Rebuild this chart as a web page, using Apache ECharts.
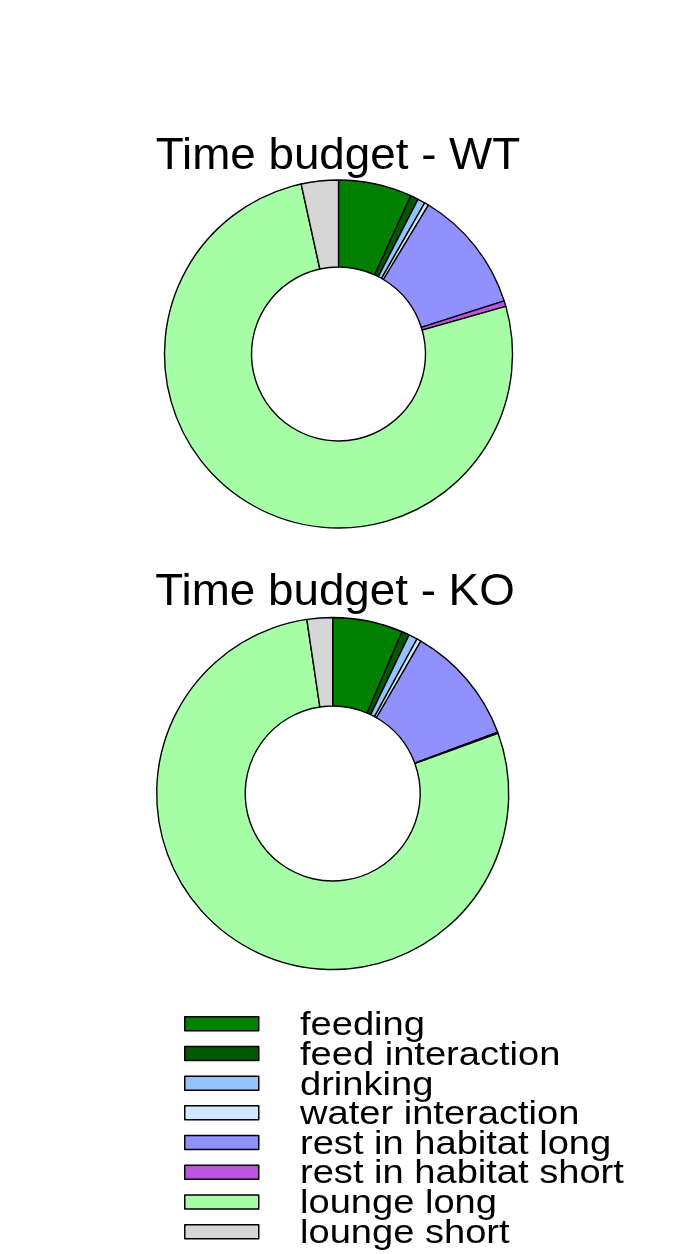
<!DOCTYPE html>
<html>
<head>
<meta charset="utf-8">
<script src="https://cdn.jsdelivr.net/npm/echarts@6/dist/echarts.min.js"></script>
<style>
  html, body { margin: 0; padding: 0; background: #ffffff; }
  #chart { width: 689px; height: 1254px; }
</style>
</head>
<body>
<div id="chart"></div>
<script>
// ---- data ----
const categories = [
  'feeding', 'feed interaction', 'drinking', 'water interaction',
  'rest in habitat long', 'rest in habitat short', 'lounge long', 'lounge short'
];
const wtValues = [6.82, 0.74, 0.69, 0.39, 11.42, 0.53, 75.97, 3.44];
const koValues = [6.45, 0.70, 0.80, 0.40, 11.00, 0.10, 78.25, 2.35];
const colors = ['#008000', '#005800', '#94c4ff', '#d2e8ff', '#9090ff', '#bb55dd', '#a6ffa6', '#d6d6d6'];
const titles = ['Time budget - WT', 'Time budget - KO'];

const FONT = '"Liberation Sans", Arial, Helvetica, sans-serif';

const chart = echarts.init(document.getElementById('chart'), null, { renderer: 'canvas' });

function pieSeries(name, values, center, radius) {
  return {
    type: 'pie',
    name: name,
    center: center,
    radius: radius,
    startAngle: 90,
    clockwise: true,
    avoidLabelOverlap: false,
    label: { show: false },
    labelLine: { show: false },
    emphasis: { disabled: true },
    itemStyle: { borderColor: '#000000', borderWidth: 1.4 },
    data: categories.map((c, i) => ({ name: c, value: values[i], itemStyle: { color: colors[i] } }))
  };
}

// graphic texts (titles + legend labels), horizontally widened like the reference font
const graphics = [];
graphics.push({
  type: 'text', x: 338, y: 156.5, scaleX: 1.04, silent: true,
  style: { text: titles[0], fontSize: 44, fontFamily: FONT, fill: '#000', align: 'center', verticalAlign: 'middle' }
});
graphics.push({
  type: 'text', x: 335, y: 592.5, scaleX: 1.04, silent: true,
  style: { text: titles[1], fontSize: 44, fontFamily: FONT, fill: '#000', align: 'center', verticalAlign: 'middle' }
});
const legendTop = 1016, legendStep = 29.6, boxH = 14;
categories.forEach((c, i) => {
  graphics.push({
    type: 'text', x: 300, y: legendTop + boxH / 2 + 3 + i * legendStep, scaleX: 1.12, silent: true,
    style: { text: c, fontSize: 34, fontFamily: FONT, fill: '#000', align: 'left', verticalAlign: 'middle' }
  });
});

const option = {
  backgroundColor: '#ffffff',
  animation: false,
  color: colors,
  legend: {
    orient: 'vertical',
    left: 184,
    top: legendTop,
    itemWidth: 74,
    itemHeight: boxH,
    itemGap: legendStep - boxH - 1.4,
    icon: 'rect',
    selectedMode: false,
    padding: 0,
    data: categories,
    formatter: function () { return ''; },
    itemStyle: { borderColor: '#000000', borderWidth: 1.5 },
    textStyle: { fontSize: 1 }
  },
  series: [
    pieSeries('WT', wtValues, [338.5, 354], [87, 174]),
    pieSeries('KO', koValues, [332.7, 793.5], [87.5, 176])
  ],
  graphic: graphics
};

chart.setOption(option);
</script>
</body>
</html>
